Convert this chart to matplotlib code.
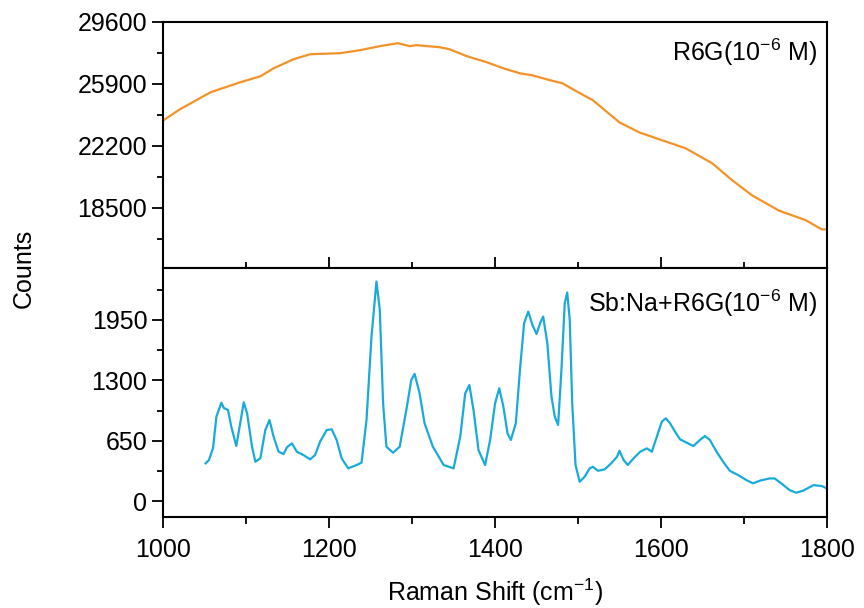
import matplotlib.pyplot as plt
from matplotlib.ticker import MultipleLocator

plt.rcParams['font.family'] = ['Liberation Sans', 'DejaVu Sans']
plt.rcParams['mathtext.fontset'] = 'custom'
plt.rcParams['mathtext.rm'] = 'Liberation Sans'

# R6G (10^-6 M) alone - broad fluorescence background
shift_top = [1000, 1020, 1057, 1093, 1117, 1133, 1157, 1177, 1213, 1237, 1261,
             1283, 1297, 1305, 1333, 1345, 1366, 1390, 1410, 1430, 1445, 1466,
             1481, 1498, 1518, 1550, 1574, 1598, 1630, 1662, 1686, 1710, 1742,
             1775, 1794, 1800]
counts_top = [23720, 24380, 25400, 26000, 26350, 26830, 27370, 27670, 27730,
              27910, 28150, 28330, 28150, 28210, 28090, 27970, 27550, 27190,
              26830, 26530, 26410, 26120, 25940, 25460, 24920, 23600, 23000,
              22590, 22050, 21150, 20140, 19240, 18340, 17750, 17210, 17210]

# Sb:Na + R6G (10^-6 M)
shift_bot = [1051, 1055, 1060, 1064, 1070, 1073, 1078, 1082, 1088, 1092, 1097,
             1101, 1107, 1111, 1117, 1123, 1128, 1133, 1139, 1145, 1149, 1155,
             1161, 1169, 1177, 1183, 1189, 1197, 1203, 1209, 1215, 1223, 1233,
             1239, 1245, 1251, 1257, 1261, 1265, 1269, 1277, 1285, 1293, 1299,
             1303, 1309, 1315, 1325, 1338, 1350, 1358, 1364, 1369, 1374, 1380,
             1388, 1394, 1400, 1405, 1410, 1415, 1419, 1425, 1430, 1435, 1440,
             1445, 1450, 1455, 1458, 1463, 1468, 1472, 1476, 1480, 1484, 1487,
             1490, 1493, 1497, 1502, 1508, 1514, 1518, 1524, 1532, 1540, 1547,
             1550, 1555, 1560, 1567, 1575, 1583, 1589, 1595, 1601, 1606, 1611,
             1617, 1623, 1631, 1639, 1647, 1653, 1659, 1667, 1675, 1683, 1693,
             1703, 1711, 1719, 1731, 1737, 1745, 1755, 1763, 1771, 1784, 1794,
             1800]
counts_bot = [409, 444, 574, 910, 1061, 1004, 982, 803, 595, 803, 1065,
              947, 588, 426, 463, 767, 875, 695, 534, 509, 581, 624,
              534, 498, 452, 498, 641, 767, 775, 660, 463, 355, 391,
              416, 875, 1771, 2363, 2058, 1054, 588, 523, 588, 982, 1305,
              1370, 1162, 839, 588, 391, 355, 695, 1162, 1251, 982, 552,
              391, 660, 1054, 1216, 1018, 732, 660, 839, 1413, 1915, 2040,
              1897, 1800, 1932, 1986, 1700, 1125, 910, 821, 1413, 2130, 2245,
              1951, 1054, 390, 211, 265, 355, 372, 329, 344, 409, 480,
              544, 444, 391, 463, 534, 570, 534, 695, 857, 893, 839,
              749, 667, 631, 595, 660, 703, 660, 534, 426, 329, 283,
              229, 194, 222, 247, 247, 194, 122, 93, 114, 175, 165,
              140]

fig = plt.figure(figsize=(8.64, 6.08), dpi=100)
ax1 = fig.add_axes([0.189, 0.559, 0.768, 0.405])
ax2 = fig.add_axes([0.189, 0.149, 0.768, 0.410])

ax1.plot(shift_top, counts_top, color='#F39228', lw=1.6)
ax2.plot(shift_bot, counts_bot, color='#1AAAD9', lw=1.6)

for ax in (ax1, ax2):
    ax.set_xlim(1000, 1800)
    for s in ax.spines.values():
        s.set_linewidth(1.5)
    ax.xaxis.set_major_locator(MultipleLocator(200))
    ax.xaxis.set_minor_locator(MultipleLocator(100))
    ax.tick_params(axis='y', which='major', direction='out', length=8, width=1.3,
                   labelsize=18, right=False)
    ax.tick_params(axis='y', which='minor', direction='out', length=4, width=1.3,
                   right=False)

ax1.set_ylim(14900, 29600)
ax1.set_yticks([18500, 22200, 25900, 29600])
ax1.yaxis.set_minor_locator(MultipleLocator(1850))
ax1.tick_params(axis='x', which='major', direction='in', length=8, width=1.3,
                labelbottom=False)
ax1.tick_params(axis='x', which='minor', direction='in', length=4, width=1.3)

ax2.set_ylim(-172, 2507)
ax2.set_yticks([0, 650, 1300, 1950])
ax2.yaxis.set_minor_locator(MultipleLocator(325))
ax2.tick_params(axis='x', which='major', direction='out', length=8, width=1.3,
                labelsize=18, pad=7)
ax2.tick_params(axis='x', which='minor', direction='out', length=5, width=1.3)

ax1.text(0.986, 0.875, r'R6G(10$^{\mathregular{-6}}$ M)', transform=ax1.transAxes,
         ha='right', va='center', fontsize=18)
ax2.text(0.986, 0.86, r'Sb:Na+R6G(10$^{\mathregular{-6}}$ M)', transform=ax2.transAxes,
         ha='right', va='center', fontsize=18)

fig.text(0.028, 0.559, 'Counts', rotation=90, ha='center', va='center', fontsize=18)
fig.text(0.573, 0.026, r'Raman Shift (cm$^{\mathregular{-1}}$)', ha='center',
         va='center', fontsize=18)

fig.savefig('out.png', dpi=100)
